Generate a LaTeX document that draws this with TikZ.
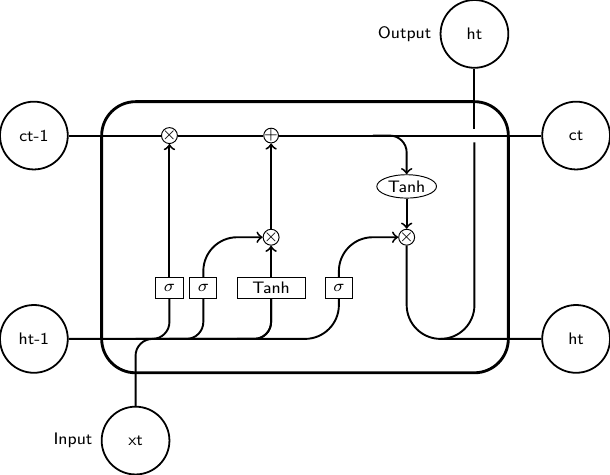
\documentclass[tikz,border=0pt]{standalone}
\usetikzlibrary{shapes.geometric,calc}
\begin{document}
\begin{tikzpicture}[
    font=\sffamily\scriptsize,
    cell/.style={rectangle, rounded corners=5mm, draw, very thick},
    operator/.style={circle, draw, inner sep=-0.5pt, minimum height=.2cm},
    function/.style={ellipse, draw, inner sep=1pt},
    ct/.style={circle, draw, line width=.75pt, minimum width=1cm, inner sep=1pt},
    gt/.style={rectangle, draw, minimum width=4mm, minimum height=3mm, inner sep=1pt},
    mylabel/.style={font=\scriptsize\sffamily},
    ArrowC1/.style={rounded corners=.25cm, thick},
    ArrowC2/.style={rounded corners=.5cm, thick},
    ]
    \useasboundingbox (-4.5,-3.5) rectangle (4.5,3.5);
    \node [cell, minimum height=4cm, minimum width=6cm] (cell) at (0,0) {};

    \node [gt] (ibox1) at (-2,-0.75) {$\sigma$};
    \node [gt] (ibox2) at (-1.5,-0.75) {$\sigma$};
    \node [gt, minimum width=1cm] (ibox3) at (-0.5,-0.75) {Tanh};
    \node [gt] (ibox4) at (0.5,-0.75) {$\sigma$};

    \node [operator] (mux1) at (-2,1.5) {$\times$};
    \node [operator] (add1) at (-0.5,1.5) {+};
    \node [operator] (mux2) at (-0.5,0) {$\times$};
    \node [operator] (mux3) at (1.5,0) {$\times$};
    \node [function] (func1) at (1.5,0.75) {Tanh};

    \node[ct] (c) at (-4,1.5) {ct-1};
    \node[ct] (h) at (-4,-1.5) {ht-1};
    \node[ct, label={[mylabel]left:Input}] (x) at (-2.5,-3) {xt};

    \node[ct] (c2) at (4,1.5) {ct};
    \node[ct] (h2) at (4,-1.5) {ht};
    \node[ct, label={[mylabel]left:Output}] (x2) at (2.5,3) {ht};

    \draw [ArrowC1] (c) -- (mux1) -- (add1) -- (c2);

    \draw [ArrowC2] (h) -| (ibox4);
    \draw [ArrowC1] (h -| ibox1)++(-0.5,0) -| (ibox1);
    \draw [ArrowC1] (h -| ibox2)++(-0.5,0) -| (ibox2);
    \draw [ArrowC1] (h -| ibox3)++(-0.5,0) -| (ibox3);
    \draw [ArrowC1] (x) -- (x |- h)-| (ibox3);

    \draw [->, ArrowC2] (ibox1) -- (mux1);
    \draw [->, ArrowC2] (ibox2) |- (mux2);
    \draw [->, ArrowC2] (ibox3) -- (mux2);
    \draw [->, ArrowC2] (ibox4) |- (mux3);
    \draw [->, ArrowC2] (mux2) -- (add1);
    \draw [->, ArrowC1] (add1 -| func1)++(-0.5,0) -| (func1);
    \draw [->, ArrowC2] (func1) -- (mux3);

    \draw [-, ArrowC2] (mux3) |- (h2);
    \coordinate (i1) at ($(c2 -| x2)+(0,-0.1)$);
    \draw [-, ArrowC2] (h2 -| x2)++(-0.5,0) -| (i1);
    \draw [-, ArrowC2] (i1)++(0,0.2) -- (x2);
\end{tikzpicture}
\end{document}
